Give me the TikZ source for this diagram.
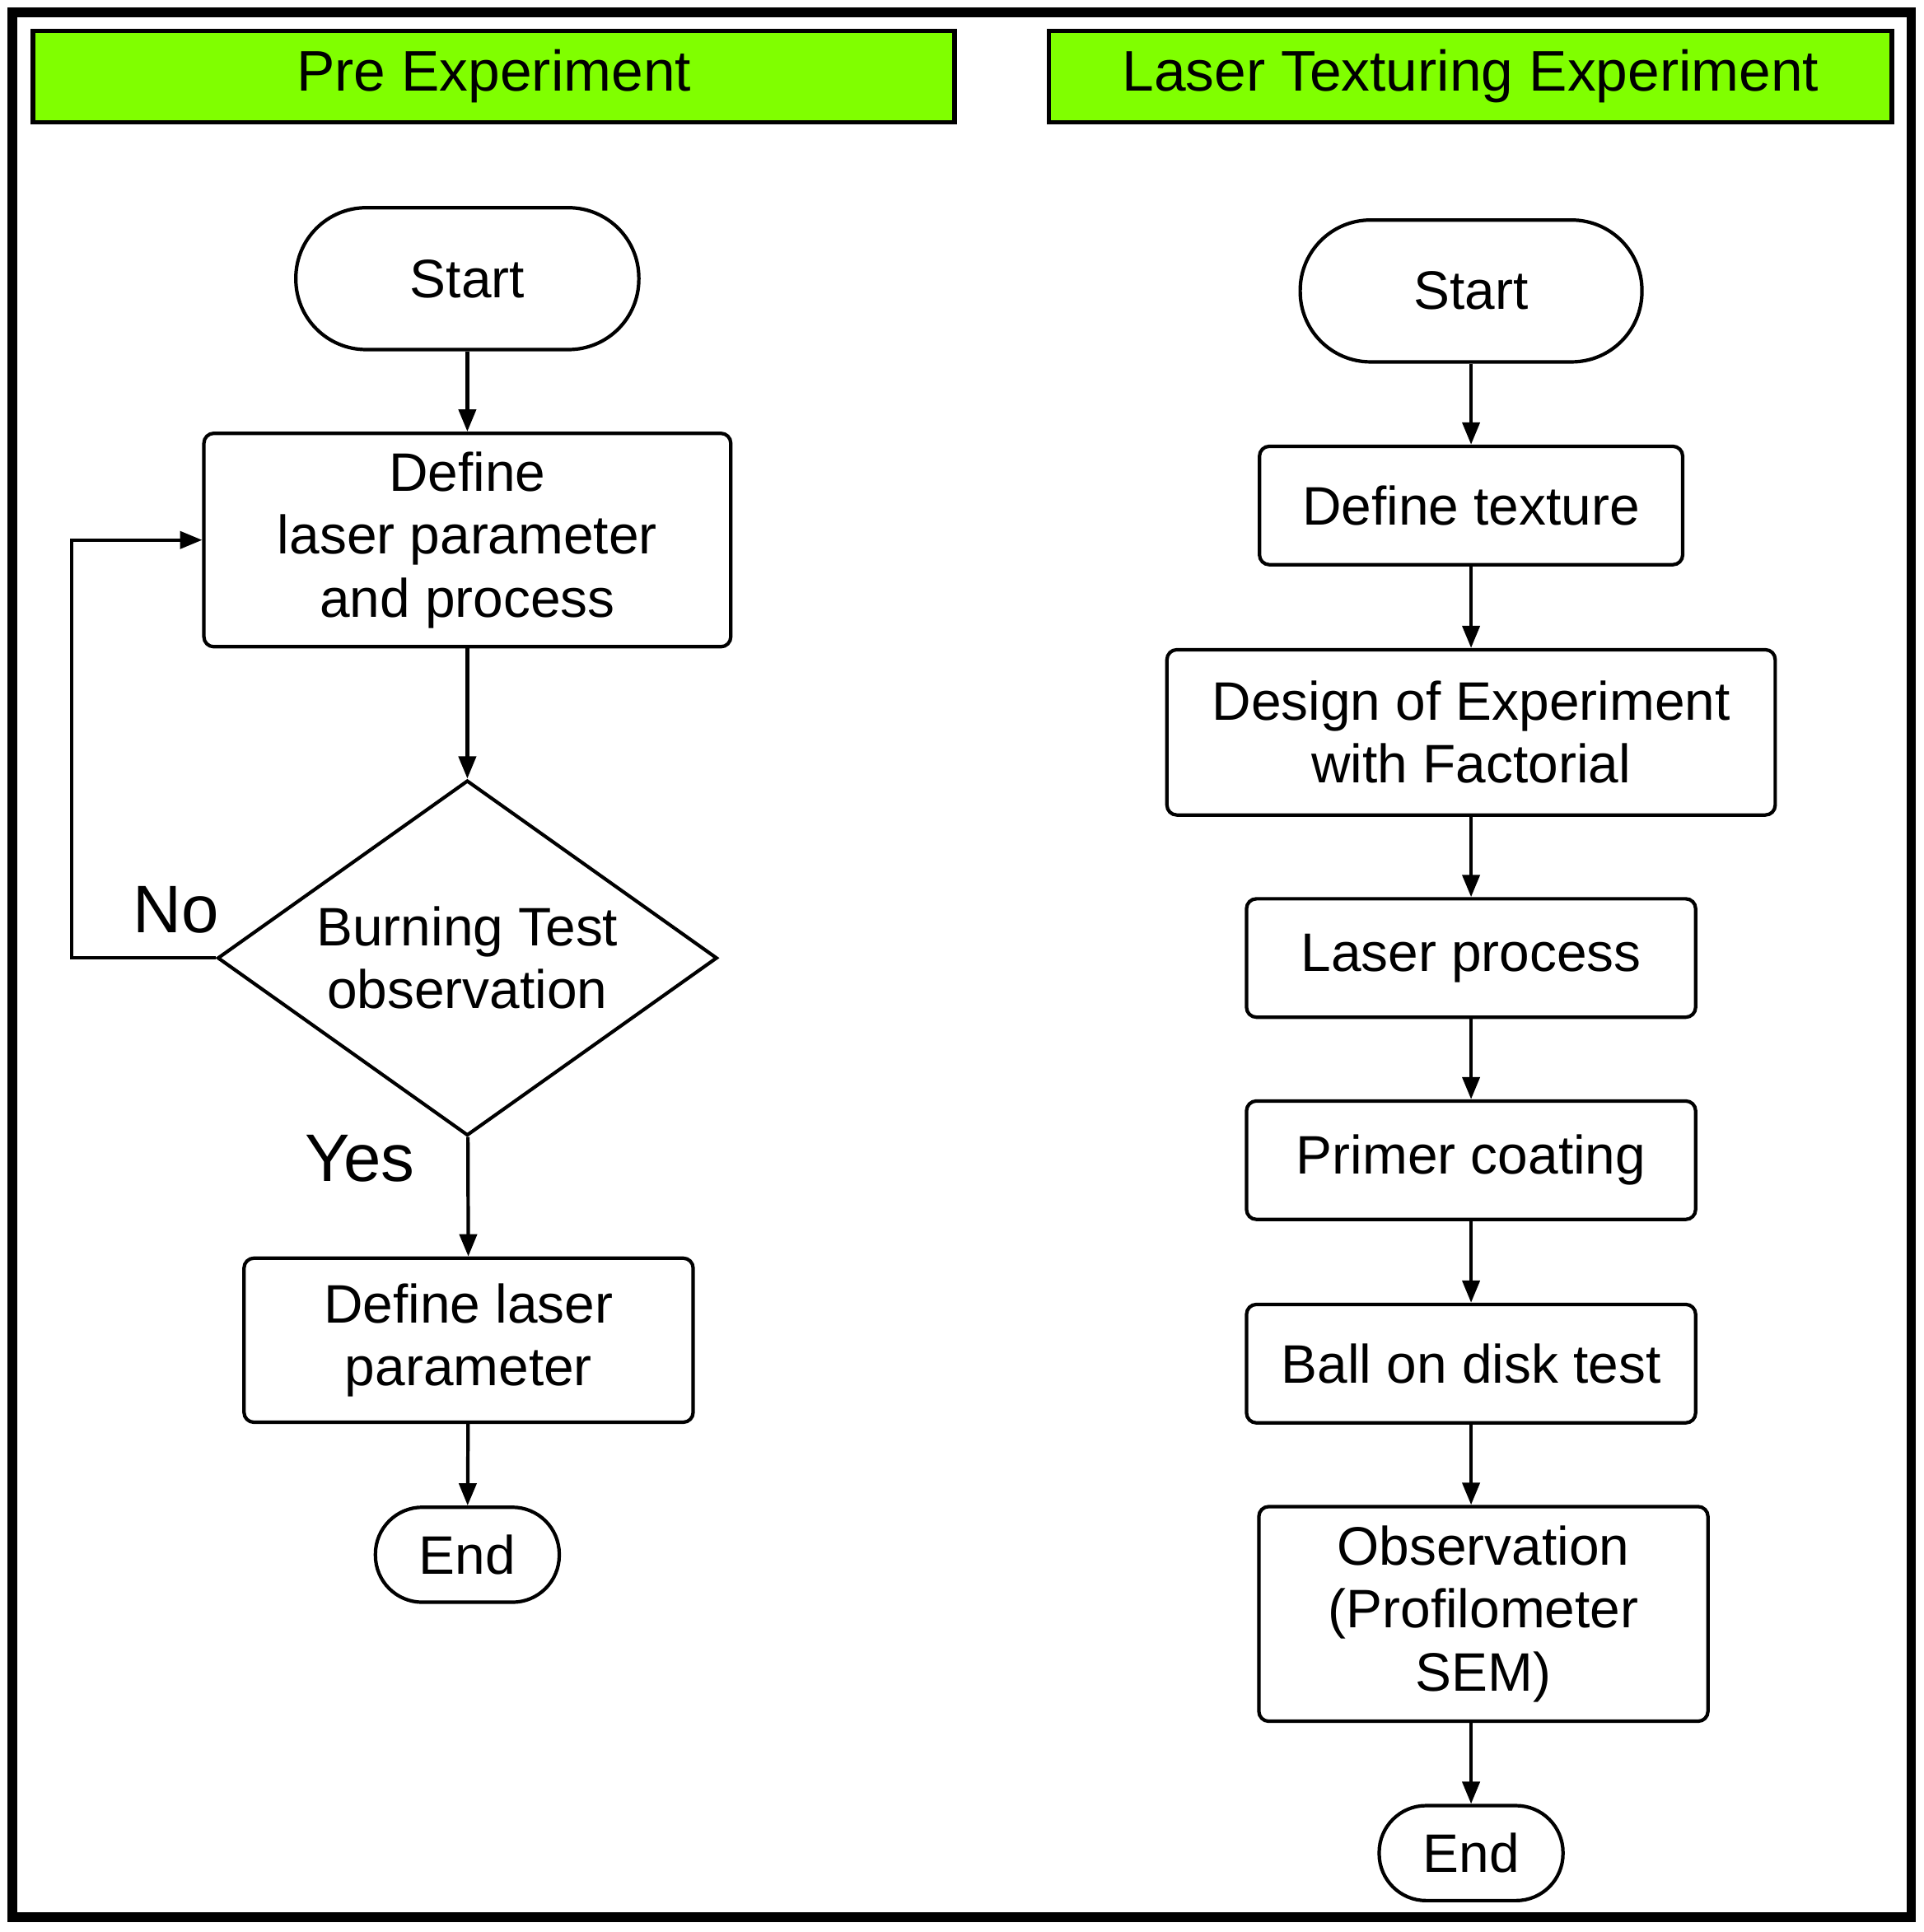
\documentclass[tikz,border=0pt]{standalone}
\usepackage{fontspec}
\setmainfont{Liberation Sans}
\usetikzlibrary{shapes.geometric, arrows.meta}

\definecolor{headgreen}{RGB}{128,255,0}

\tikzset{
	every node/.style = {font = \fontsize{12.5}{14.5}\selectfont, align = center, inner sep = 0pt},
	header/.style = {draw, line width = 1pt, fill = headgreen, minimum height = 0.74cm, font = \fontsize{13.2}{15}\selectfont},
	terminal/.style = {draw, line width = 0.8pt, rounded corners = 0.38cm},
	process/.style = {draw, line width = 0.8pt, rounded corners = 0.08cm},
	decision/.style = {draw, line width = 0.8pt, diamond, minimum width = 4.05cm, minimum height = 2.88cm, aspect = 1.4},
	answer/.style = {font = \fontsize{15.5}{18}\selectfont},
	flow/.style = {draw, line width = 0.8pt, -{Triangle[length = 0.18cm, width = 0.14cm]}}
}

\begin{document}
\begin{tikzpicture}[x = 0.01cm, y = -0.01cm]
	% frame
	\draw [line width = 2.2pt] (10,10) rectangle (1550,1555);
	\useasboundingbox (0,0) rectangle (1560,1567);
	
	% headers
	\node [header, minimum width = 7.47cm] (hpre) at (400.5,62) {Pre Experiment};
	\node [header, minimum width = 6.83cm] (hlaser) at (1192.5,62) {Laser Texturing Experiment};
	
	% pre experiment
	\node [terminal, minimum width = 2.78cm, minimum height = 1.15cm, rounded corners = 0.57cm] (start1) at (379,226) {Start};
	\node [process, minimum width = 4.27cm, minimum height = 1.73cm] (defparam) at (379,438) {Define\\laser parameter\\and process};
	\node [decision] (burn) at (379,777) {Burning Test\\observation};
	\node [process, minimum width = 3.64cm, minimum height = 1.33cm] (deflaser) at (380,1087) {Define laser\\parameter};
	\node [terminal, minimum width = 1.49cm, minimum height = 0.77cm] (end1) at (379,1261) {End};
	\node [answer] (no) at (143,738) {No};
	\node [answer] (yes) at (292,940) {Yes};
	\coordinate (loop) at (58,777);
	
	\draw [flow] (start1) -- (defparam);
	\draw [flow] (defparam) -- (burn);
	\draw [flow] (burn) -- (deflaser);
	\draw [flow] (deflaser) -- (end1);
	\draw [flow] (burn.west) -- (loop) |- (defparam.west);
	
	% laser texturing experiment
	\node [terminal, minimum width = 2.77cm, minimum height = 1.15cm, rounded corners = 0.57cm] (start2) at (1193,236) {Start};
	\node [process, minimum width = 3.43cm, minimum height = 0.96cm] (texture) at (1193,410) {Define texture};
	\node [process, minimum width = 4.93cm, minimum height = 1.34cm] (doe) at (1193,594) {Design of Experiment\\with Factorial};
	\node [process, minimum width = 3.64cm, minimum height = 0.96cm] (lprocess) at (1193,777) {Laser process};
	\node [process, minimum width = 3.64cm, minimum height = 0.96cm] (primer) at (1193,941) {Primer coating};
	\node [process, minimum width = 3.64cm, minimum height = 0.96cm] (ball) at (1193,1106) {Ball on disk test};
	\node [process, minimum width = 3.64cm, minimum height = 1.74cm] (observe) at (1203,1309) {Observation\\(Profilometer\\SEM)};
	\node [terminal, minimum width = 1.49cm, minimum height = 0.77cm] (end2) at (1193,1503) {End};
	
	\draw [flow] (start2) -- (texture);
	\draw [flow] (texture) -- (doe);
	\draw [flow] (doe) -- (lprocess);
	\draw [flow] (lprocess) -- (primer);
	\draw [flow] (primer) -- (ball);
	\draw [flow] (ball.south) -- (ball.south |- observe.north);
	\draw [flow] (end2.north |- observe.south) -- (end2.north);
\end{tikzpicture}
\end{document}
